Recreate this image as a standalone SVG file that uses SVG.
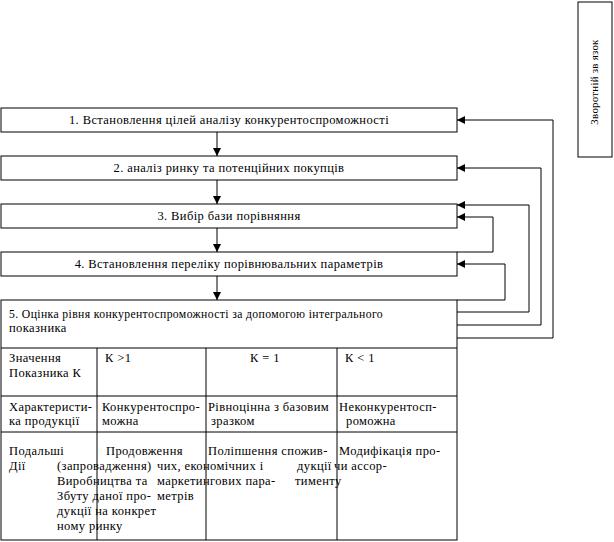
<svg xmlns="http://www.w3.org/2000/svg" width="614" height="542" viewBox="0 0 614 542" font-family="'Liberation Serif', 'DejaVu Serif', serif">
<style>
.box{fill:#fff;stroke:#000;stroke-width:1}
.ln{fill:none;stroke:#000;stroke-width:1}
text{font-family:'Liberation Serif','DejaVu Serif',serif;font-size:12.5px;letter-spacing:0.4px;fill:#000}
.c{text-anchor:middle}
</style>
<defs>
<marker id="ah" viewBox="0 0 8 8" refX="8" refY="4" markerWidth="8" markerHeight="8" markerUnits="userSpaceOnUse" orient="auto">
<path d="M0,0 L8,4 L0,8 Z" fill="#000"/>
</marker>
</defs>
<rect width="614" height="542" fill="#fff"/>

<g id="connectors">
<line class="ln" x1="217" y1="132" x2="217" y2="156" marker-end="url(#ah)"/>
<line class="ln" x1="217" y1="180" x2="217" y2="204" marker-end="url(#ah)"/>
<line class="ln" x1="217" y1="228" x2="217" y2="252" marker-end="url(#ah)"/>
<line class="ln" x1="217" y1="276" x2="217" y2="300" marker-end="url(#ah)"/>
<polyline class="ln" points="457,338 553,338 553,120 457,120" marker-end="url(#ah)"/>
<polyline class="ln" points="457,325 541,325 541,168 457,168" marker-end="url(#ah)"/>
<polyline class="ln" points="457,312 529,312 529,205 457,205" marker-end="url(#ah)"/>
<polyline class="ln" points="457,252 493,252 493,217 457,217" marker-end="url(#ah)"/>
<polyline class="ln" points="457,300 505,300 505,264 457,264" marker-end="url(#ah)"/>
</g>

<g id="feedback">
<rect class="box" x="578" y="2" width="34" height="155"/>
<text class="c" transform="translate(598,82) rotate(-90)" style="font-size:11px;letter-spacing:0.2px">Зворотній зв язок</text>
</g>

<g id="step1">
<rect class="box" x="1" y="108" width="456" height="24"/>
<text class="c" x="229" y="124">1. Встановлення цілей аналізу конкурентоспроможності</text>
</g>
<g id="step2">
<rect class="box" x="1" y="156" width="456" height="24"/>
<text class="c" x="229" y="172">2. аналіз ринку та потенційних покупців</text>
</g>
<g id="step3">
<rect class="box" x="1" y="204" width="456" height="24"/>
<text class="c" x="229" y="220">3. Вибір бази порівняння</text>
</g>
<g id="step4">
<rect class="box" x="1" y="252" width="456" height="24"/>
<text class="c" x="229" y="268">4. Встановлення переліку порівнювальних параметрів</text>
</g>

<g id="step5">
<rect class="box" x="1" y="300" width="456" height="240"/>
<text x="9" y="318" textLength="374" lengthAdjust="spacingAndGlyphs">5. Оцінка рівня конкурентоспроможності за допомогою інтегрального</text>
<text x="9" y="332">показника</text>
<line class="ln" x1="1" y1="348" x2="457" y2="348"/>
<line class="ln" x1="1" y1="396" x2="457" y2="396"/>
<line class="ln" x1="1" y1="432" x2="457" y2="432"/>
<line class="ln" x1="97" y1="348" x2="97" y2="540"/>
<line class="ln" x1="206" y1="348" x2="206" y2="540"/>
<line class="ln" x1="337" y1="348" x2="337" y2="540"/>

<text x="9" y="362">Значення</text>
<text x="9" y="377">Показника К</text>
<text x="105" y="362">К &gt;1</text>
<text x="250" y="362">К = 1</text>
<text x="345" y="362">К &lt; 1</text>

<text x="9" y="411">Характеристи-</text>
<text x="9" y="425">ка продукції</text>
<text x="102" y="411">Конкурентоспро-</text>
<text x="102" y="425">можна</text>
<text x="208" y="411">Рівноцінна з базовим</text>
<text x="211" y="425">зразком</text>
<text x="339" y="411">Неконкурентосп-</text>
<text x="346" y="425">роможна</text>

<text x="9" y="455">Подальші</text>
<text x="9" y="470">Дії</text>
<text x="57" y="470">(запровадження)</text>
<text x="57" y="485">Виробництва та</text>
<text x="57" y="500">Збуту даної про-</text>
<text x="57" y="515">дукції на конкрет</text>
<text x="57" y="530">ному ринку</text>
<text x="106" y="455">Продовження</text>
<text x="208" y="455">Поліпшення спожив-</text>
<text x="157" y="470">чих, економічних і</text>
<text x="297" y="470">дукції</text>
<text x="157" y="485">маркетингових пара-</text>
<text x="295" y="485">тименту</text>
<text x="157" y="500">метрів</text>
<text x="339" y="455">Модифікація про-</text>
<text x="334" y="470">чи ассор-</text>
</g>
</svg>
